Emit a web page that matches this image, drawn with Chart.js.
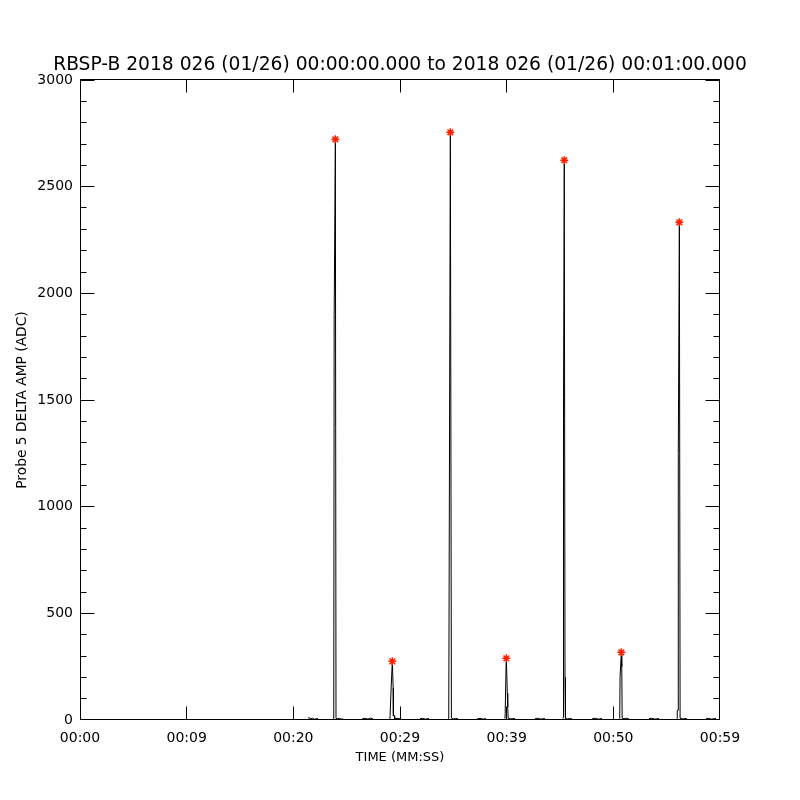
<!DOCTYPE html>
<html>
<head>
<meta charset="utf-8">
<script src="https://cdn.jsdelivr.net/npm/chart.js@4.4.1/dist/chart.umd.min.js"></script>
<style>
  html, body { margin: 0; padding: 0; background: #fff; }
</style>
</head>
<body>
<canvas id="chart" width="800" height="800"></canvas>
<script>
// probe 5 delta amplitude, each burst is [seconds, ADC]
const burstA = [[21.38, 10], [21.55, 10], [21.6, 5], [21.8, 8], [22.0, 4], [22.31, 7]];
const burstB = [[23.72, 6], [23.79, 9], [23.83, 1900], [23.94, 2722], [24.0, 8], [24.1, 5], [24.3, 8], [24.5, 4], [24.66, 6]];
const burstC = [[26.44, 5], [26.7, 8], [27.0, 4], [27.2, 9], [27.47, 5]];
const burstD = [[29.05, 5], [29.07, 22], [29.15, 22], [29.17, 150], [29.28, 275], [29.36, 150], [29.38, 20], [29.48, 20], [29.5, 6], [29.8, 8], [30.0, 5]];
const burstE = [[31.88, 6], [32.1, 8], [32.4, 4], [32.72, 7]];
const burstF = [[34.5, 6], [34.57, 8], [34.6, 520], [34.72, 2755], [34.82, 9], [35.0, 5], [35.2, 7], [35.44, 6]];
const burstG = [[37.22, 5], [37.5, 8], [37.8, 4], [38.06, 7]];
const burstH = [[39.84, 6], [39.86, 30], [39.93, 30], [39.95, 270], [39.97, 289], [40.06, 125], [40.1, 60], [40.14, 8], [40.4, 5], [40.78, 7]];
const burstI = [[42.66, 6], [42.9, 8], [43.2, 4], [43.59, 7]];
const burstJ = [[45.28, 6], [45.3, 12], [45.33, 1510], [45.4, 2624], [45.47, 200], [45.51, 8], [45.7, 5], [45.9, 7], [46.13, 5]];
const burstK = [[48.0, 5], [48.3, 8], [48.6, 4], [48.94, 7]];
const burstL = [[50.6, 6], [50.63, 200], [50.75, 317], [50.79, 250], [50.83, 8], [51.0, 6], [51.2, 8], [51.47, 5]];
const burstM = [[53.34, 6], [53.6, 8], [53.9, 4], [54.28, 7]];
const burstN = [[55.97, 6], [55.99, 45], [56.07, 45], [56.09, 1250], [56.19, 2333], [56.26, 8], [56.5, 5], [56.7, 7], [56.9, 6]];
const burstO = [[58.69, 6], [58.9, 8], [59.2, 4], [59.63, 7]];

const bursts = [burstA, burstB, burstC, burstD, burstE, burstF, burstG, burstH,
  burstI, burstJ, burstK, burstL, burstM, burstN, burstO];

// red asterisks at the burst maxima
const peakTimes = [23.94, 29.28, 34.72, 39.97, 45.4, 50.75, 56.19];
const peakValues = [2722, 275, 2755, 289, 2624, 317, 2333];

const xTickValues = [0, 10, 20, 30, 40, 50, 60];
const xTickLabels = ['00:00', '00:09', '00:20', '00:29', '00:39', '00:50', '00:59'];
const yTickValues = [0, 500, 1000, 1500, 2000, 2500, 3000];

const titleText = 'RBSP-B 2018 026 (01/26) 00:00:00.000 to 2018 026 (01/26) 00:01:00.000';

// one line dataset, nulls break it between bursts
const linePoints = [];
bursts.forEach(b => {
  b.forEach(p => linePoints.push({ x: p[0], y: p[1] }));
  linePoints.push({ x: b[b.length - 1][0] + 0.01, y: null });
});
const peakPoints = peakTimes.map((t, i) => ({ x: t, y: peakValues[i] }));

const clamp = (v, lo, hi) => Math.min(hi, Math.max(lo, v));

const idlFrame = {
  id: 'idlFrame',
  afterDraw(chart) {
    const { ctx, scales: { x, y } } = chart;
    const L = 80.5, R = 719.5, T = 79.5, B = 719.5;
    ctx.save();
    ctx.strokeStyle = '#000';
    ctx.lineWidth = 1;
    ctx.beginPath();
    ctx.rect(L, T, R - L, B - T);
    xTickValues.forEach(v => {
      const px = clamp(Math.floor(x.getPixelForValue(v)) + 0.5, L, R);
      ctx.moveTo(px, B); ctx.lineTo(px, B - 13);
      ctx.moveTo(px, T); ctx.lineTo(px, T + 13);
    });
    for (let v = 0; v <= 3000; v += 100) {
      const py = clamp(Math.floor(y.getPixelForValue(v)) + 0.5, T, B);
      const len = v % 500 === 0 ? 14 : 6;
      ctx.moveTo(L, py); ctx.lineTo(L + len, py);
      ctx.moveTo(R, py); ctx.lineTo(R - len, py);
    }
    ctx.stroke();
    ctx.restore();
  }
};

new Chart(document.getElementById('chart'), {
  type: 'line',
  data: {
    datasets: [
      {
        data: linePoints,
        borderColor: '#000',
        borderWidth: 1,
        pointRadius: 0,
        tension: 0,
        spanGaps: false,
        order: 2
      },
      {
        data: peakPoints,
        showLine: false,
        pointStyle: 'star',
        pointRadius: 4,
        pointBorderColor: '#ff2000',
        pointBorderWidth: 1.5,
        pointBackgroundColor: '#ff2000',
        order: 1
      }
    ]
  },
  options: {
    responsive: false,
    animation: false,
    events: [],
    layout: { padding: 0 },
    plugins: {
      legend: { display: false },
      tooltip: { enabled: false },
      title: {
        display: true,
        text: titleText,
        color: '#000',
        font: { family: 'DejaVu Sans', size: 18.7, weight: 'normal' },
        padding: { top: 54, bottom: 3.56 }
      }
    },
    scales: {
      x: {
        type: 'linear',
        min: 0,
        max: 60,
        afterFit: s => { s.height = 80; },
        afterBuildTicks: s => { s.ticks = xTickValues.map(v => ({ value: v })); },
        grid: { display: false, drawTicks: false },
        border: { display: false },
        ticks: {
          color: '#000',
          padding: 10,
          maxRotation: 0,
          autoSkip: false,
          font: { family: 'DejaVu Sans', size: 14 },
          callback: (v) => xTickLabels[xTickValues.indexOf(v)]
        },
        title: {
          display: true,
          text: 'TIME (MM:SS)',
          color: '#000',
          font: { family: 'DejaVu Sans', size: 13 },
          padding: { top: 0, bottom: 34.2 }
        }
      },
      y: {
        min: 0,
        max: 3000,
        afterFit: s => { s.width = 80; },
        afterBuildTicks: s => { s.ticks = yTickValues.map(v => ({ value: v })); },
        grid: { display: false, drawTicks: false },
        border: { display: false },
        ticks: {
          color: '#000',
          padding: 7,
          autoSkip: false,
          font: { family: 'DejaVu Sans', size: 14 },
          callback: v => String(v)
        },
        title: {
          display: true,
          text: 'Probe 5 DELTA AMP (ADC)',
          color: '#000',
          font: { family: 'DejaVu Sans', size: 13.8 },
          padding: { top: 14, bottom: 0 }
        }
      },
      yRight: {
        position: 'right',
        min: 0,
        max: 3000,
        afterFit: s => { s.width = 80; },
        grid: { display: false, drawTicks: false },
        border: { display: false },
        ticks: { display: false }
      }
    }
  },
  plugins: [idlFrame]
});
</script>
</body>
</html>
